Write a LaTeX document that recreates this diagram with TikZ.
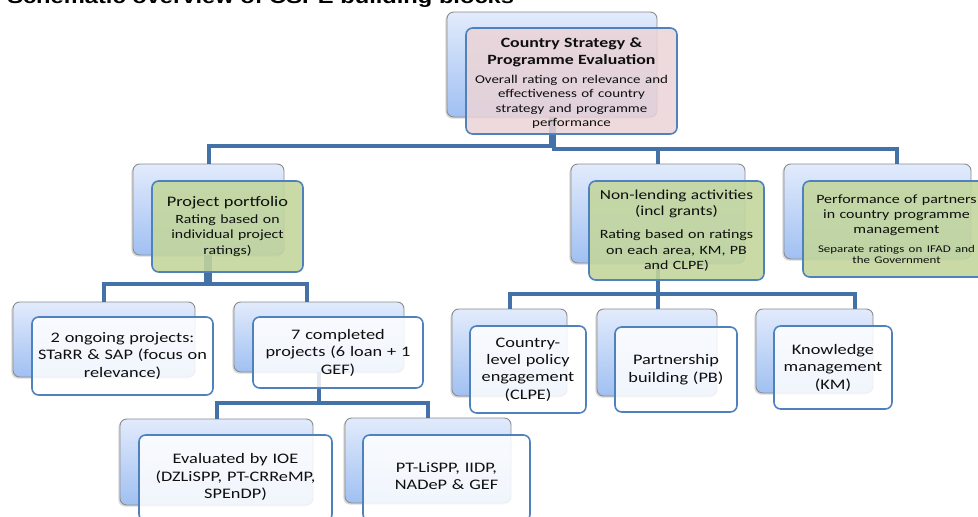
\documentclass[tikz,border=0pt]{standalone}
\usepackage{fontspec}
\setmainfont{Carlito}[FakeStretch=1.26]
\newfontfamily\titlefont{Liberation Sans}[FakeStretch=1.26]
\usetikzlibrary{fit,shadows,calc}
\definecolor{connc}{RGB}{68,114,168}
\definecolor{frontb}{RGB}{79,129,189}
\definecolor{backb}{RGB}{140,140,140}
\definecolor{backtop}{RGB}{226,235,252}
\definecolor{backbot}{RGB}{160,192,242}
\definecolor{greenf}{RGB}{195,214,155}
\definecolor{pinkf}{RGB}{236,212,214}
\definecolor{txtc}{RGB}{15,15,15}
\begin{document}
\begin{tikzpicture}[x=0.75pt,y=-0.75pt,
  backbox/.style={rectangle, rounded corners=5pt, draw=backb, line width=0.7pt,
    top color=backtop, bottom color=backbot, inner sep=0pt,
    drop shadow={shadow xshift=-1.2pt,shadow yshift=-1.2pt,opacity=0.3}},
  frontbox/.style={rectangle, rounded corners=5pt, draw=frontb, line width=1.2pt,
    fill=white, fill opacity=0.85, inner sep=0pt},
  greenbox/.style={frontbox, fill=greenf, fill opacity=0.88},
  pinkbox/.style={frontbox, fill=pinkf, fill opacity=0.85},
  conn/.style={draw=connc, line width=3pt},
  txt/.style={text width=230pt, align=center, inner sep=0pt, text=txtc},
  leaf/.style={txt, font=\fontsize{10.9}{13.1}\selectfont},
]
\useasboundingbox (0,0) rectangle (978,517);
\clip (0,0) rectangle (978,517);
\fill[white] (0,0) rectangle (978,517);

% title (cut off at the top)
\node[anchor=base west, inner sep=0pt, font=\titlefont\bfseries\fontsize{14.1}{16}\selectfont] (title) at (7,3.8) {Schematic overview of CSPE building blocks};

% back boxes
\node[backbox, fit={(447,12) (657,117)}] (csB) {};
\node[backbox, fit={(133,164) (284,255)}] (ppB) {};
\node[backbox, fit={(571,164) (745,263)}] (nlB) {};
\node[backbox, fit={(784,164) (971,259)}] (perfB) {};
\node[backbox, fit={(13,302) (195,377)}] (twoB) {};
\node[backbox, fit={(234,302) (404,372)}] (sevenB) {};
\node[backbox, fit={(452,309) (567,396)}] (clpeB) {};
\node[backbox, fit={(597,309) (717,396)}] (pbB) {};
\node[backbox, fit={(756,309) (873,393)}] (kmB) {};
\node[backbox, fit={(120,419) (313,505)}] (evalB) {};
\node[backbox, fit={(345,418) (511,503)}] (ptB) {};

\coordinate (perfTop) at (896.5,164);

% connector levels
\coordinate (yA) at (0,146);
\coordinate (yB) at (0,149);
\coordinate (yC) at (0,284);
\coordinate (yD) at (0,294);
\coordinate (yE) at (0,403);
\coordinate (csL) at ($(csB.south)+(-1.5,0)$);
\coordinate (csR) at ($(csB.south)+(1.5,0)$);
\coordinate (ppL) at ($(ppB.south)+(-3,0)$);
\coordinate (ppR) at ($(ppB.south)+(1,0)$);

% connectors
\draw[conn] (csL) -- (csL |- yA) -| (ppB.north);
\draw[conn] (csR) -- (csR |- yB) -| (nlB.north);
\draw[conn] (csR) -- (csR |- yB) -| (perfTop);
\draw[conn] (ppL) -- (ppL |- yC) -| (twoB.north);
\draw[conn] (ppR) -- (ppR |- yC) -| ($(sevenB.north)+(-12,0)$);
\draw[conn] (nlB.south) -- (nlB.south |- yD) -| (clpeB.north);
\draw[conn] (nlB.south) -- (nlB.south |- pbB.north);
\draw[conn] (nlB.south) -- (nlB.south |- yD) -| ($(kmB.north)+(40,0)$);
\draw[conn] (sevenB.south) -- (sevenB.south |- yE) -| (evalB.north);
\draw[conn] (sevenB.south) -- (sevenB.south |- yE) -| (ptB.north);

% front boxes
\node[pinkbox, fit={(466,28) (677,134)}] (csF) {};
\node[greenbox, fit={(152,181) (303,272)}] (ppF) {};
\node[greenbox, fit={(589,181) (764,280)}] (nlF) {};
\node[greenbox, fit={(803,181) (990,277)}] (perfF) {};
\node[frontbox, fit={(32,317) (213,395)}] (twoF) {};
\node[frontbox, fit={(253,317) (423,388)}] (sevenF) {};
\node[frontbox, fit={(470,326) (586,413)}] (clpeF) {};
\node[frontbox, fit={(615,327) (737,412)}] (pbF) {};
\node[frontbox, fit={(774,326) (892,409)}] (kmF) {};
\node[frontbox, fit={(139,435) (332,521)}] (evalF) {};
\node[frontbox, fit={(363,435) (530,521)}] (ptF) {};

% texts
\node[txt] (csT) at ($(csF.center)+(0,2)$) {{\bfseries\fontsize{10.6}{13}\selectfont Country Strategy \&\\ Programme Evaluation\par}\vspace{3pt}{\fontsize{8.9}{10.9}\selectfont Overall rating on relevance and\\ effectiveness of country\\ strategy and programme\\ performance\par}};
\node[txt] (ppT) at (ppF.center) {{\fontsize{10.9}{13}\selectfont Project portfolio\par}\vspace{1pt}{\fontsize{9.4}{11.5}\selectfont Rating based on\\ individual project\\ ratings)\par}};
\node[txt] (nlT) at (nlF.center) {{\fontsize{10.3}{12.5}\selectfont Non-lending activities\\ (incl grants)\par}\vspace{5.5pt}{\fontsize{9.5}{11.6}\selectfont Rating based on ratings\\ on each area, KM, PB\\ and CLPE)\par}};
\node[txt] (perfT) at (perfF.center) {{\fontsize{9.5}{11.6}\selectfont Performance of partners\\ in country programme\\ management\par}\vspace{5pt}{\fontsize{7.7}{8.6}\selectfont Separate ratings on IFAD and\\ the Government\par}};
\node[leaf] (twoT) at (twoF.center) {2 ongoing projects:\\ STaRR \& SAP (focus on\\ relevance)};
\node[leaf] (sevenT) at (sevenF.center) {7 completed\\ projects (6 loan + 1\\ GEF)};
\node[leaf] (clpeT) at (clpeF.center) {Country-\\ level policy\\ engagement\\ (CLPE)};
\node[leaf] (pbT) at (pbF.center) {Partnership\\ building (PB)};
\node[leaf] (kmT) at (kmF.center) {Knowledge\\ management\\ (KM)};
\node[leaf] (evalT) at ($(evalF.center)+(0,-1)$) {Evaluated by IOE\\ (DZLiSPP, PT-CRReMP,\\ SPEnDP)};
\node[leaf] (ptT) at ($(ptF.center)+(0,-2)$) {PT-LiSPP, IIDP,\\ NADeP \& GEF};
\end{tikzpicture}
\end{document}
